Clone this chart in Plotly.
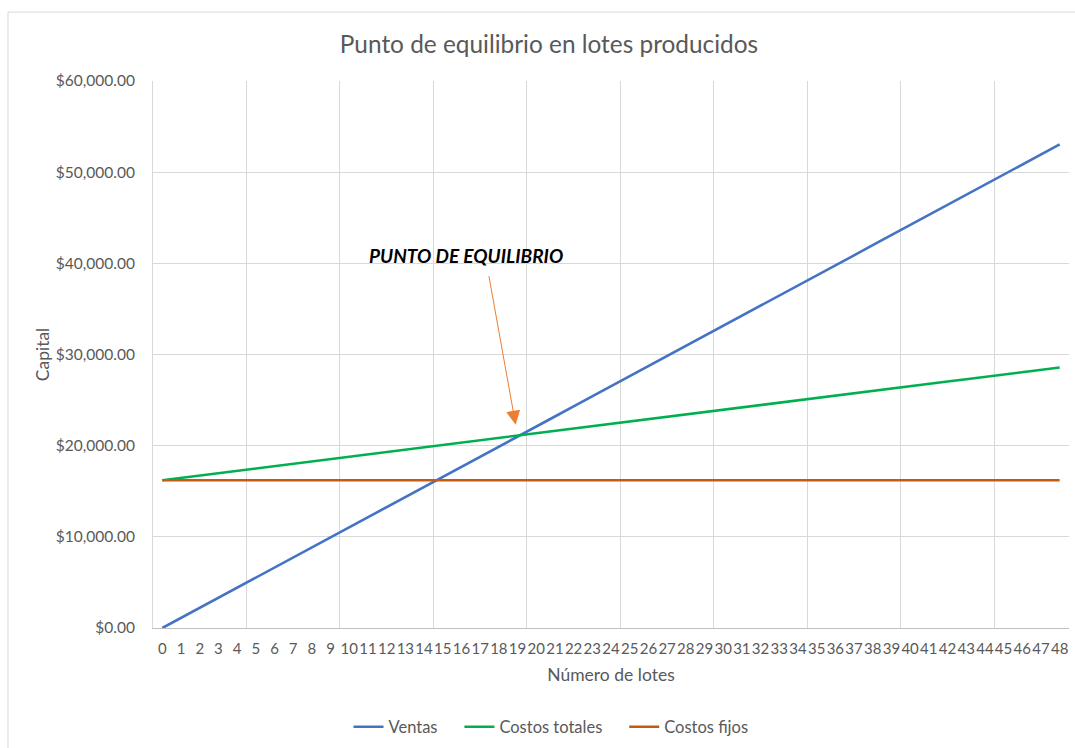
import plotly.graph_objects as go

# ---- data ----
lotes = list(range(0, 49))
ventas = [0, 1100, 2210, 3310, 4420, 5520, 6630, 7730, 8840, 9940,
          11050, 12150, 13260, 14360, 15470, 16570, 17680, 18780, 19890, 20990,
          22100, 23200, 24310, 25410, 26520, 27620, 28730, 29830, 30940, 32040,
          33150, 34250, 35360, 36460, 37570, 38670, 39780, 40880, 41990, 43090,
          44200, 45300, 46410, 47510, 48620, 49720, 50830, 51930, 53040]
costos_totales = [16200, 16460, 16720, 16970, 17230, 17490, 17750, 18010, 18260, 18520,
                  18780, 19040, 19300, 19550, 19810, 20070, 20330, 20590, 20840, 21100,
                  21360, 21620, 21880, 22130, 22390, 22650, 22910, 23170, 23420, 23680,
                  23940, 24200, 24460, 24710, 24970, 25230, 25490, 25750, 26000, 26260,
                  26520, 26780, 27040, 27290, 27550, 27810, 28070, 28330, 28580]
costos_fijos = [16200] * 49
tick_labels = [str(v) for v in lotes]
grid_positions = [-0.5, 4.5, 9.5, 14.5, 19.5, 24.5, 29.5, 34.5, 39.5, 44.5]
series_names = ["Ventas", "Costos totales", "Costos fijos"]

FONT = "Lato"
GREY = "#595959"
PAD = "\u00a0" * 4

fig = go.Figure()
fig.add_trace(go.Scatter(x=lotes, y=ventas, mode="lines", name=series_names[0] + PAD,
                         line=dict(color="#4472C4", width=2.6)))
fig.add_trace(go.Scatter(x=lotes, y=costos_totales, mode="lines", name=series_names[1] + PAD,
                         line=dict(color="#00B050", width=2.6)))
fig.add_trace(go.Scatter(x=lotes, y=costos_fijos, mode="lines", name=series_names[2],
                         line=dict(color="#C55A11", width=2.6)))

fig.update_layout(
    width=1075, height=748,
    margin=dict(l=153, r=6, t=81, b=120),
    paper_bgcolor="white", plot_bgcolor="white",
    font=dict(family=FONT, color=GREY, size=16),
    title=dict(text="Punto de equilibrio en lotes producidos",
               font=dict(family=FONT, size=24.4, color=GREY),
               xref="container", x=549 / 1075, xanchor="center",
               yref="container", y=1 - 44 / 748, yanchor="middle"),
    showlegend=True,
    legend=dict(orientation="h", xref="container", x=551 / 1075, xanchor="center",
                yref="container", y=1 - 727 / 748, yanchor="middle",
                font=dict(family=FONT, size=16.5, color=GREY),
                itemwidth=30, tracegroupgap=0),
    xaxis=dict(range=[-0.5, 48.5], tickmode="array", tickvals=lotes, ticktext=tick_labels,
               showgrid=False, zeroline=False, showline=True, linecolor="#BFBFBF", linewidth=1,
               ticks="", ticklabelstandoff=7, tickangle=0,
               tickfont=dict(family=FONT, size=15, color=GREY),
               minor=dict(tickmode="array", tickvals=grid_positions, showgrid=True,
                          gridcolor="#D9D9D9", gridwidth=1, ticks=""),
               title=dict(text="Número de lotes", standoff=12,
                          font=dict(family=FONT, size=17.5, color=GREY))),
    yaxis=dict(range=[0, 60000], dtick=10000, tickformat="$,.2f",
               showgrid=True, gridcolor="#D9D9D9", gridwidth=1, zeroline=False,
               showline=True, linecolor="#D9D9D9", linewidth=1,
               ticks="", ticklabelstandoff=14,
               tickfont=dict(family=FONT, size=15.5, color=GREY),
               title=dict(text="Capital", standoff=1,
                          font=dict(family=FONT, size=17.5, color=GREY))),
)

# label and arrow for the break-even point
fig.add_annotation(x=16.25, y=40900, xref="x", yref="y", text="<b><i>PUNTO DE EQUILIBRIO</i></b>",
                   showarrow=False, font=dict(family=FONT, size=19, color="#000000"))
fig.add_annotation(x=18.9, y=22300, xref="x", yref="y", text="", showarrow=True,
                   ax=-27, ay=-150, axref="pixel", ayref="pixel",
                   arrowhead=2, arrowsize=2.8, arrowwidth=1, arrowcolor="#ED7D31")

# chart area border
fig.add_shape(type="rect", xref="paper", yref="paper",
              x0=-0.1583, x1=1.02, y0=-0.26, y1=1.126,
              line=dict(color="#D9D9D9", width=1), fillcolor="rgba(0,0,0,0)", layer="below")

fig.write_html("out.html")
